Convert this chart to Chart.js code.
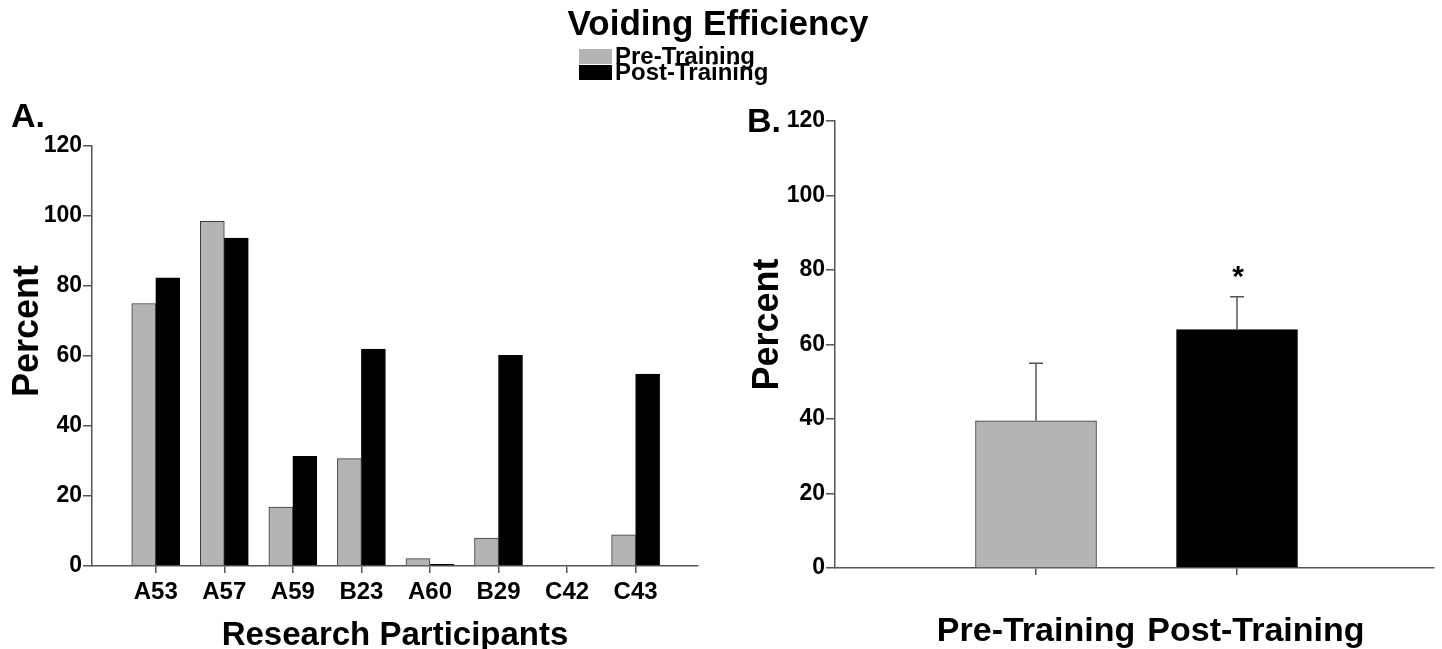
<!DOCTYPE html>
<html>
<head>
<meta charset="utf-8">
<script src="https://cdn.jsdelivr.net/npm/chart.js@4"></script>
<style>
  body { margin: 0; background: #fff; }
  #wrap { position: relative; width: 1442px; height: 649px; overflow: hidden; font-family: "Liberation Sans", Arial, sans-serif; font-weight: bold; color: #000; }
  canvas { position: absolute; top: 0; }
  #chartA { left: 0; }
  #chartB { left: 730px; }
  #title { position: absolute; left: 0; width: 1436px; top: 5px; text-align: center; font-size: 35px; line-height: 1; }
  #legend { position: absolute; left: 579px; top: 48px; font-size: 24px; line-height: 16px; }
  #legend div { position: relative; padding-left: 36px; height: 16px; }
  #legend span { position: absolute; left: 0; top: 1px; width: 33px; height: 15px; }
  .panel { position: absolute; font-size: 34px; line-height: 1; }
</style>
</head>
<body>
<div id="wrap">
  <canvas id="chartA" width="730" height="649"></canvas>
  <canvas id="chartB" width="712" height="649"></canvas>
  <div id="title">Voiding Efficiency</div>
  <div id="legend">
    <div><span style="background:#b4b4b4"></span>Pre-Training</div>
    <div><span style="background:#000"></span>Post-Training</div>
  </div>
  <div class="panel" style="left:11px; top:98px">A.</div>
  <div class="panel" style="left:747px; top:103px">B.</div>
</div>

<script>
// panel A: individual participants
const participants = ['A53', 'A57', 'A59', 'B23', 'A60', 'B29', 'C42', 'C43'];
const preTraining = [75, 98.5, 16.8, 30.7, 2.1, 8, 0, 8.9];
const postTraining = [82.3, 93.7, 31.3, 62, 0.5, 60.2, 0, 54.8];

// panel B: group means with SEM
const groups = ['Pre-Training', 'Post-Training'];
const groupMeans = [39.5, 64];
const groupSem = [15.5, 8.8];
const sigMarks = ['', '*'];

const GRAY = '#b4b4b4';
const AXIS = '#555';
const FONT = '"Liberation Sans", Arial, sans-serif';

function yAxis(width, titlePad, titleText) {
    return {
        min: 0,
        max: 120,
        ticks: { stepSize: 20, padding: 1, color: '#000', font: { family: FONT, size: 23, weight: 'bold' } },
        grid: { drawOnChartArea: false, tickLength: 9, color: AXIS, lineWidth: 1.5 },
        border: { color: AXIS, width: 1.5 },
        title: {
            display: true, text: titleText, color: '#000',
            font: { family: FONT, size: 36, weight: 'bold', lineHeight: 0.8 },
            padding: { top: titlePad, bottom: 0 }
        },
        afterFit: s => { s.width = width; }
    };
}

// error bars + significance mark for panel B
const errorBars = {
    id: 'errorBars',
    afterDatasetsDraw(chart) {
        const { ctx, scales: { x, y } } = chart;
        ctx.save();
        ctx.strokeStyle = AXIS;
        ctx.lineWidth = 1.5;
        groupMeans.forEach((m, i) => {
            const px = x.getPixelForValue(i);
            const top = y.getPixelForValue(m + groupSem[i]);
            ctx.beginPath();
            ctx.moveTo(px, y.getPixelForValue(m));
            ctx.lineTo(px, top);
            ctx.moveTo(px - 7, top);
            ctx.lineTo(px + 7, top);
            ctx.stroke();
            if (sigMarks[i]) {
                ctx.fillStyle = '#000';
                ctx.font = 'bold 30px ' + FONT;
                ctx.textAlign = 'center';
                ctx.textBaseline = 'alphabetic';
                ctx.fillText(sigMarks[i], px + 1, top - 11);
            }
        });
        ctx.restore();
    }
};

function initializeParticipantChart() {
    new Chart(document.getElementById('chartA'), {
        type: 'bar',
        data: {
            datasets: [{
                label: 'Pre-Training',
                data: participants.map((p, i) => ({ x: i, y: preTraining[i] })),
                backgroundColor: GRAY,
                borderColor: '#3a3a3a',
                borderWidth: 1,
                barThickness: 24
            }, {
                label: 'Post-Training',
                data: participants.map((p, i) => ({ x: i, y: postTraining[i] })),
                backgroundColor: '#000',
                borderColor: '#000',
                borderWidth: 1,
                barThickness: 24
            }]
        },
        options: {
            responsive: false,
            animation: false,
            layout: { padding: { top: 146, right: 32, bottom: 0, left: 0 } },
            plugins: { legend: { display: false }, tooltip: { enabled: false } },
            scales: {
                x: {
                    type: 'linear',
                    offset: false,
                    min: -0.93,
                    max: 7.91,
                    afterBuildTicks: s => { s.ticks = participants.map((p, i) => ({ value: i })); },
                    ticks: {
                        callback: v => participants[v],
                        autoSkip: false, maxRotation: 0, padding: 5, color: '#000',
                        font: { family: FONT, size: 24, weight: 'bold' }
                    },
                    grid: { offset: false, drawOnChartArea: false, tickLength: 7, color: AXIS, lineWidth: 1.5 },
                    border: { color: AXIS, width: 1.5 },
                    title: {
                        display: true, text: 'Research Participants', color: '#000',
                        font: { family: FONT, size: 33, weight: 'bold', lineHeight: 0.8 },
                        padding: 0
                    },
                    afterFit: s => { s.height = 83; }
                },
                // leading spaces nudge the rotated title upward like the original
                y: yAxis(92, 14, '     Percent')
            }
        }
    });
}

function initializeGroupChart() {
    new Chart(document.getElementById('chartB'), {
        type: 'bar',
        data: {
            datasets: [{
                data: groups.map((g, i) => ({ x: i, y: groupMeans[i] })),
                backgroundColor: [GRAY, '#000'],
                borderColor: ['#3a3a3a', '#000'],
                borderWidth: 1,
                barThickness: 121
            }]
        },
        options: {
            responsive: false,
            animation: false,
            layout: { padding: { top: 121, right: 8, bottom: 0, left: 0 } },
            plugins: { legend: { display: false }, tooltip: { enabled: false } },
            scales: {
                x: {
                    type: 'linear',
                    offset: false,
                    min: -1,
                    max: 1.98,
                    afterBuildTicks: s => { s.ticks = groups.map((g, i) => ({ value: i })); },
                    ticks: {
                        callback: v => (v === 1 ? '    ' : '') + groups[v],
                        autoSkip: false, maxRotation: 0, padding: 36, color: '#000',
                        font: { family: FONT, size: 34, weight: 'bold' }
                    },
                    grid: { offset: false, drawOnChartArea: false, tickLength: 7, color: AXIS, lineWidth: 1.5 },
                    border: { color: AXIS, width: 1.5 },
                    afterFit: s => { s.height = 81; }
                },
                y: yAxis(105, 24, '    Percent')
            }
        },
        plugins: [errorBars]
    });
}

document.addEventListener('DOMContentLoaded', () => {
    initializeParticipantChart();
    initializeGroupChart();
});
</script>
</body>
</html>
